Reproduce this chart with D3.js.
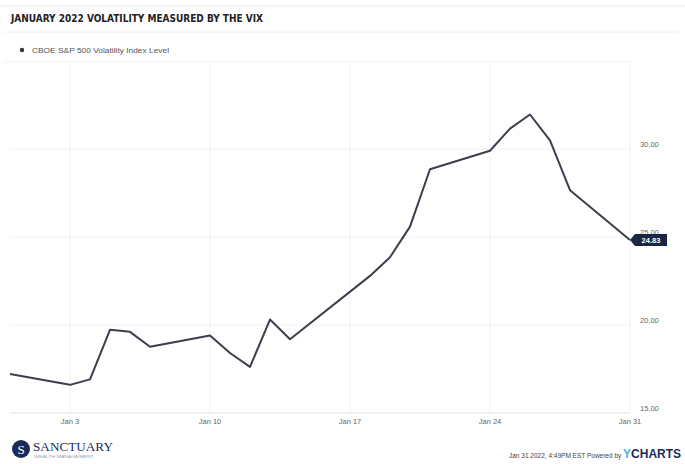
<!DOCTYPE html>
<html>
<head>
<meta charset="utf-8">
<script src="https://cdn.jsdelivr.net/npm/d3@7"></script>
<style>
html,body{margin:0;padding:0;background:#fff;}
svg{display:block;}
</style>
</head>
<body>
<svg id="chart" width="685" height="464"></svg>
<script>
// ---- data ----
const dates = ["2021-12-31","2022-01-03","2022-01-04","2022-01-05","2022-01-06","2022-01-07",
  "2022-01-10","2022-01-11","2022-01-12","2022-01-13","2022-01-14",
  "2022-01-18","2022-01-19","2022-01-20","2022-01-21",
  "2022-01-24","2022-01-25","2022-01-26","2022-01-27","2022-01-28","2022-01-31"];
const vixValues = [17.22,16.60,16.91,19.73,19.61,18.76,
  19.40,18.41,17.62,20.31,19.19,
  22.79,23.85,25.59,28.85,
  29.90,31.16,31.96,30.49,27.66,24.83];
const xTickDates = ["2022-01-03","2022-01-10","2022-01-17","2022-01-24","2022-01-31"];
const xTickLabels = ["Jan 3","Jan 10","Jan 17","Jan 24","Jan 31"];
const yTicks = [15,20,25,30];
const yTickLabels = ["15.00","20.00","25.00","30.00"];
const seriesName = "CBOE S&P 500 Volatility Index Level";
const titleText = "JANUARY 2022 VOLATILITY MEASURED BY THE VIX";

const parse = d3.utcParse("%Y-%m-%d");
const svg = d3.select("#chart");

const x = d3.scaleUtc().domain([parse(dates[0]), parse(dates[dates.length-1])]).range([10, 630]);
const y = d3.scaleLinear().domain([15, 30]).range([413, 149]);

// frame lines
svg.append("line").attr("x1",0).attr("x2",685).attr("y1",6).attr("y2",6).attr("stroke","#ececec");
svg.append("line").attr("x1",4).attr("x2",678).attr("y1",32).attr("y2",32).attr("stroke","#eeeeee");
svg.append("line").attr("x1",4).attr("x2",632).attr("y1",62).attr("y2",62).attr("stroke","#f2f2f2");

// title
svg.append("text").attr("x",11).attr("y",22).text(titleText)
  .attr("font-family","'Liberation Sans Narrow','DejaVu Sans Condensed',sans-serif")
  .attr("font-weight","bold").attr("font-size",11).attr("fill","#222")
  .attr("textLength",252).attr("lengthAdjust","spacingAndGlyphs");

// legend
svg.append("circle").attr("cx",22).attr("cy",50).attr("r",2.2).attr("fill","#2d3446");
svg.append("text").attr("x",32).attr("y",53).text(seriesName)
  .attr("font-family","'Liberation Sans',sans-serif").attr("font-size",7.5).attr("fill","#555")
  .attr("textLength",137).attr("lengthAdjust","spacingAndGlyphs");

// grid
const g = svg.append("g");
g.selectAll("line.h").data(yTicks).join("line")
  .attr("x1",10).attr("x2",630).attr("y1",d=>y(d)).attr("y2",d=>y(d))
  .attr("stroke",(d,i)=> i===0 ? "#e2e2e2" : "#f1f1f1");
g.selectAll("line.v").data(xTickDates).join("line")
  .attr("x1",d=>x(parse(d))).attr("x2",d=>x(parse(d)))
  .attr("y1",62).attr("y2",413).attr("stroke","#f1f1f1");

// x axis labels
g.selectAll("text.xl").data(xTickDates).join("text")
  .attr("x",d=>x(parse(d))).attr("y",424).attr("text-anchor","middle")
  .text((d,i)=>xTickLabels[i])
  .attr("font-family","'Liberation Sans',sans-serif").attr("font-size",7.5).attr("fill","#666");

// y axis labels
g.selectAll("text.yl").data(yTicks).join("text")
  .attr("x",640).attr("y",d=>y(d)-2)
  .text((d,i)=>yTickLabels[i])
  .attr("font-family","'Liberation Sans',sans-serif").attr("font-size",7.5).attr("fill","#666");

// line
const line = d3.line().x((d,i)=>x(parse(dates[i]))).y(d=>y(d));
svg.append("path").datum(vixValues).attr("d",line)
  .attr("fill","none").attr("stroke","#3b3f4c").attr("stroke-width",2).attr("stroke-linejoin","round");

// last value label
const lastV = vixValues[vixValues.length-1];
const lx = x(parse(dates[dates.length-1])), ly = y(lastV);
svg.append("path")
  .attr("d",`M${lx},${ly} L${lx+5},${ly-6} L${lx+37},${ly-6} L${lx+37},${ly+6} L${lx+5},${ly+6} Z`)
  .attr("fill","#1b2742");
svg.append("text").attr("x",lx+21).attr("y",ly+3).attr("text-anchor","middle")
  .text(lastV.toFixed(2)).attr("font-family","'Liberation Sans',sans-serif")
  .attr("font-weight","bold").attr("font-size",7.5).attr("fill","#fff");

// footer: logo
svg.append("circle").attr("cx",21).attr("cy",449).attr("r",9).attr("fill","#1d2b5a");
svg.append("text").attr("x",21).attr("y",453.5).attr("text-anchor","middle").text("S")
  .attr("font-family","'Liberation Serif',serif").attr("font-size",13).attr("fill","#fff");
svg.append("text").attr("x",33).attr("y",451).text("SANCTUARY")
  .attr("font-family","'Liberation Serif',serif").attr("font-size",12).attr("fill","#1d2b5a")
  .attr("textLength",80).attr("lengthAdjust","spacingAndGlyphs");
svg.append("text").attr("x",34).attr("y",458).text("WEALTH MANAGEMENT")
  .attr("font-family","'Liberation Sans',sans-serif").attr("font-size",3.5).attr("fill","#9aa0b0")
  .attr("textLength",60).attr("lengthAdjust","spacingAndGlyphs");

// footer: credit + brand as one text
const credit = svg.append("text").attr("x",509).attr("y",458)
  .attr("font-family","'Liberation Sans',sans-serif");
credit.append("tspan").text("Jan 31 2022, 4:49PM EST Powered by ")
  .attr("font-size",6.5).attr("fill","#444");
credit.append("tspan").text("Y").attr("font-weight","bold").attr("font-size",12).attr("fill","#4ab6e8");
credit.append("tspan").text("CHARTS").attr("font-weight","bold").attr("font-size",12).attr("fill","#1d2b5a");
</script>
</body>
</html>
